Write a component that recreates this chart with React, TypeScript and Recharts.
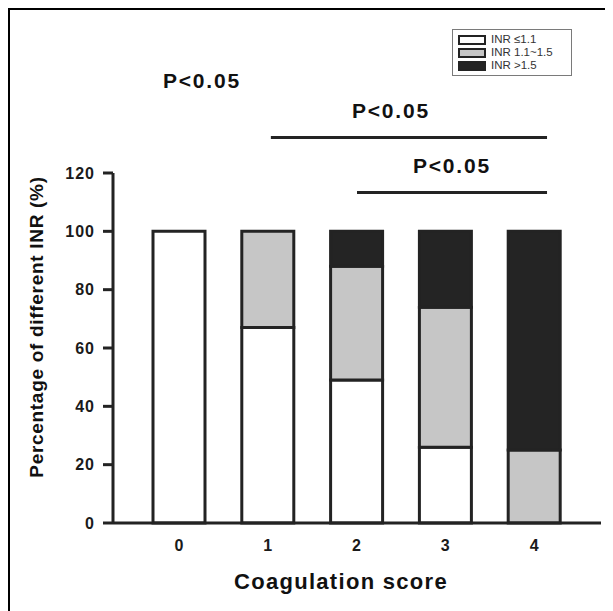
import { Bar, BarChart, Legend, ReferenceLine, XAxis, YAxis } from 'recharts';

const categories = ['0', '1', '2', '3', '4'];
const inrLow = [100, 67, 49, 26, 0];
const inrMid = [0, 33, 39, 48, 25];
const inrHigh = [0, 0, 12, 26, 75];
const yTicks = [0, 20, 40, 60, 80, 100, 120];

const seriesKeys = ['low', 'mid', 'high'];
const seriesNames = ['INR ≤1.1', 'INR 1.1~1.5', 'INR >1.5'];
const seriesFills = ['#ffffff', '#c6c6c6', '#242424'];

// significance brackets, in category units on a hidden numeric axis
const brackets = [
  { from: 1.03, to: 4.14, y: 132.2 },
  { from: 2.0, to: 4.14, y: 113.3 },
];
const pLabels = [
  { text: 'P<0.05', left: 153, top: 60 },
  { text: 'P<0.05', left: 342, top: 90 },
  { text: 'P<0.05', left: 403, top: 145 },
];

const data = categories.map((c, i) => ({
  score: c,
  pos: i,
  low: inrLow[i],
  mid: inrMid[i],
  high: inrHigh[i],
}));

const INK = '#232323';
const FONT = 'Arial, "Liberation Sans", Helvetica, sans-serif';

function LegendBox() {
  return (
    <div
      style={{
        border: '1px solid #7a7a7a',
        background: '#fff',
        padding: '3px 5px',
        width: 120,
        boxSizing: 'border-box',
        fontFamily: FONT,
      }}
    >
      {seriesNames.map((name, i) => (
        <div key={name} style={{ display: 'flex', alignItems: 'center', height: 13 }}>
          <span
            style={{
              width: 28,
              height: 10,
              boxSizing: 'border-box',
              border: `2.5px solid ${INK}`,
              background: seriesFills[i],
              display: 'inline-block',
            }}
          />
          <span style={{ marginLeft: 5, fontSize: 11.5, lineHeight: '13px', color: '#333' }}>{name}</span>
        </div>
      ))}
    </div>
  );
}

export default function App() {
  const tickStyle = { fontSize: 16, fontWeight: 700, fill: '#1a1a1a', fontFamily: FONT, letterSpacing: 1 };
  return (
    <div
      style={{
        position: 'relative',
        width: 603,
        height: 601,
        borderLeft: '2px solid #000',
        borderTop: '2px solid #000',
        background: '#fff',
      }}
    >
      <BarChart width={603} height={601} data={data} margin={{ top: 163, right: 12, bottom: 28, left: 0 }} barSize={52}>
        <XAxis
          dataKey="score"
          padding={{ left: 22, right: 22 }}
          tickSize={0}
          tickMargin={17}
          height={60}
          stroke={INK}
          strokeWidth={3}
          tick={tickStyle}
          label={{
            content: () => (
              <text
                x={331}
                y={579}
                textAnchor="middle"
                style={{ fontSize: 22, fontWeight: 700, fontFamily: FONT, letterSpacing: 1.3 }}
                fill="#111"
              >
                Coagulation score
              </text>
            ),
          }}
        />
        <XAxis
          xAxisId="ann"
          dataKey="pos"
          type="number"
          domain={[-0.5, 4.5]}
          allowDataOverflow
          padding={{ left: 22, right: 22 }}
          hide
        />
        <YAxis
          domain={[0, 120]}
          ticks={yTicks}
          width={103}
          tickSize={10}
          tickMargin={8}
          stroke={INK}
          strokeWidth={3}
          tick={tickStyle}
          label={{
            content: () => (
              <text
                x={26}
                y={317}
                transform="rotate(-90, 26, 317)"
                textAnchor="middle"
                dominantBaseline="central"
                style={{ fontSize: 19, fontWeight: 700, fontFamily: FONT, letterSpacing: 0.7 }}
                fill="#111"
              >
                Percentage of different INR (%)
              </text>
            ),
          }}
        />
        {seriesKeys.map((k, i) => (
          <Bar
            key={k}
            dataKey={k}
            name={seriesNames[i]}
            stackId="inr"
            fill={seriesFills[i]}
            stroke={INK}
            strokeWidth={3}
            isAnimationActive={false}
          />
        ))}
        {brackets.map((b, i) => (
          <ReferenceLine
            key={i}
            xAxisId="ann"
            segment={[
              { x: b.from, y: b.y },
              { x: b.to, y: b.y },
            ]}
            stroke={INK}
            strokeWidth={3}
            ifOverflow="visible"
          />
        ))}
        <Legend
          layout="horizontal"
          verticalAlign="middle"
          align="center"
          content={() => <LegendBox />}
          wrapperStyle={{ top: 19, left: 442, width: 120 }}
        />
      </BarChart>
      {pLabels.map((p, i) => (
        <div
          key={i}
          style={{
            position: 'absolute',
            left: p.left,
            top: p.top,
            fontFamily: FONT,
            fontWeight: 700,
            fontSize: 21,
            lineHeight: '21px',
            letterSpacing: 1.8,
            color: '#111',
            whiteSpace: 'nowrap',
          }}
        >
          {p.text}
        </div>
      ))}
    </div>
  );
}
